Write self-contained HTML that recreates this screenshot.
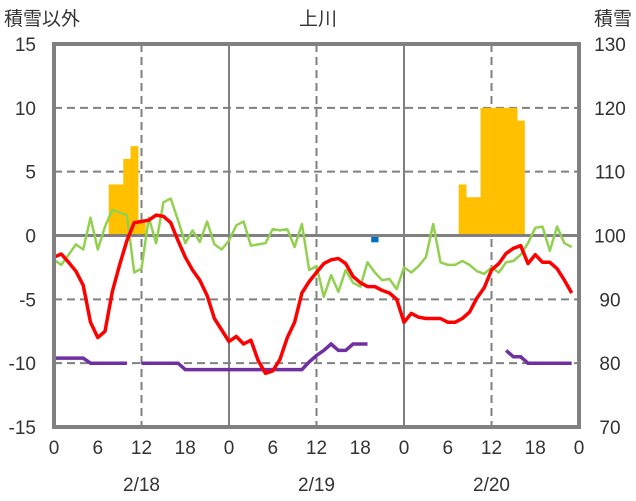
<!DOCTYPE html>
<html><head><meta charset="utf-8"><style>
body{margin:0;background:#fff;}
svg{display:block;font-family:"Liberation Sans","Noto Sans CJK JP",sans-serif;}
</style></head><body>
<svg id="c" width="636" height="501">
<text x="4" y="25" font-size="19" fill="#333">積雪以外</text>
<text x="318" y="25" font-size="19" fill="#333" text-anchor="middle">上川</text>
<text x="632" y="25" font-size="19" fill="#333" text-anchor="end">積雪</text>
<g id="grid"></g><g id="bars"></g><g id="lines"></g><g id="axes"></g>
</svg>
<script>
const hours=[];for(let i=0;i<72;i++)hours.push(i);
const leftTicks=[15,10,5,0,-5,-10,-15];
const rightTicks=[130,120,110,100,90,80,70];
const xTickLabels=["0","6","12","18","0","6","12","18","0","6","12","18","0"];
const dateLabels=["2/18","2/19","2/20"];
const snowHours=[8,9,10,11,12,56,57,58,59,60,61,62,63,64];
const snowDepth=[108,108,112,114,102,108,106,106,120,120,120,120,120,118];
const redVals=[-1.7,-1.45,-2.1,-2.8,-3.9,-6.8,-8.0,-7.5,-4.4,-2.3,-0.4,1.0,1.1,1.2,1.6,1.5,1.0,-0.4,-1.7,-2.7,-3.5,-4.7,-6.5,-7.4,
-8.3,-7.9,-8.5,-8.2,-9.8,-10.8,-10.6,-9.7,-8.0,-6.8,-4.5,-3.6,-2.9,-2.2,-1.9,-1.8,-2.2,-3.2,-3.7,-4.0,-4.0,-4.3,-4.5,-5.0,
-6.8,-6.1,-6.4,-6.5,-6.5,-6.5,-6.8,-6.8,-6.5,-6.0,-4.9,-4.1,-2.7,-2.2,-1.4,-1.0,-0.8,-2.2,-1.5,-2.1,-2.1,-2.6,-3.5,-4.5];
const greenVals=[-1.9,-2.3,-1.5,-0.7,-1.1,1.4,-1.1,0.7,2.0,1.8,1.6,-2.9,-2.6,1.4,-0.6,2.6,2.9,1.2,-0.6,0.4,-0.5,1.1,-0.7,-1.1,
-0.4,0.8,1.1,-0.8,-0.7,-0.6,0.5,0.4,0.5,-0.9,0.9,-2.7,-2.4,-4.8,-3.1,-4.4,-2.7,-3.7,-4.0,-2.1,-2.9,-3.5,-3.4,-4.2,
-2.5,-2.9,-2.4,-1.7,0.9,-2.1,-2.3,-2.3,-2.0,-2.3,-2.8,-3.0,-2.5,-2.9,-2.1,-2.0,-1.5,-0.6,0.6,0.7,-1.2,0.7,-0.6,-0.9];
const N=null;
const purpleVals=[-9.6,-9.6,-9.6,-9.6,-9.6,-10,-10,-10,-10,-10,-10,N,-10,-10,-10,-10,-10,-10,-10.5,-10.5,-10.5,-10.5,-10.5,-10.5,
-10.5,-10.5,-10.5,-10.5,-10.5,-10.5,-10.5,-10.5,-10.5,-10.5,-10.5,-9.9,-9.4,-9.0,-8.5,-9.0,-9.0,-8.5,-8.5,-8.5,N,N,N,N,
N,N,N,N,N,N,N,N,N,N,N,N,N,N,-9.0,-9.5,-9.5,-10,-10,-10,-10,-10,-10,-10];
const blueHour=[44];const blueVal=[-0.3];

const X0=54,X1=579,Y0=44,Y1=427;
const x=h=>X0+(X1-X0)*h/72;
const yL=v=>Y1-(v+15)/30*(Y1-Y0);
const yR=v=>Y1-(v-70)/60*(Y1-Y0);
const NS="http://www.w3.org/2000/svg";
function mk(tag,parent,attrs){const e=document.createElementNS(NS,tag);for(const k in attrs)e.setAttribute(k,attrs[k]);parent.appendChild(e);return e;}
const grid=document.getElementById('grid'),bars=document.getElementById('bars'),lines=document.getElementById('lines'),axes=document.getElementById('axes');

leftTicks.forEach((t,i)=>{
  const y=yL(t);
  if(t!==15&&t!==-15&&t!==0){const l=mk('line',grid,{x1:X0,x2:X1,y1:y,y2:y,stroke:'#808080','stroke-width':2,'stroke-dasharray':'8,5'});
  }
  const tx=mk('text',axes,{x:36,y:y+7,'font-size':19,fill:'#333','text-anchor':'end'});tx.textContent=t;
  
  const tr=mk('text',axes,{x:610,y:y+7,'font-size':19,fill:'#333','text-anchor':'middle'});tr.textContent=rightTicks[i];
  
});
xTickLabels.forEach((s,i)=>{
  const h=i*6,xx=x(h);
  if(i%4===2){const l=mk('line',grid,{x1:xx,x2:xx,y1:Y0,y2:Y1,stroke:'#808080','stroke-width':2,'stroke-dasharray':'8,5'});
  }
  if(i%4===0&&i>0&&i<12){const l=mk('line',grid,{x1:xx,x2:xx,y1:Y0,y2:Y1,stroke:'#808080','stroke-width':2});
  }
  const t=mk('text',axes,{x:xx,y:454,'font-size':19,fill:'#333','text-anchor':'middle'});t.textContent=s;
  
});
dateLabels.forEach((s,i)=>{
  const t=mk('text',axes,{x:x(i*24+12),y:491,'font-size':19,fill:'#333','text-anchor':'middle'});t.textContent=s;
  
});
snowHours.forEach((h,i)=>{
  const w=x(1)-x(0),yt=yR(snowDepth[i]);
  const r=mk('rect',bars,{x:x(h-0.5),y:yt,width:w+0.5,height:yR(100)-yt,fill:'#FFC000'});
  
});
blueHour.forEach((h,i)=>{
  const r=mk('rect',bars,{x:x(h-0.5),y:yL(0)+1,width:x(1)-x(0),height:Math.max(4,yL(blueVal[i])-yL(0)+2),fill:'#0070C0'});
  
});
function path(vals){let d='',pen=false;vals.forEach((v,i)=>{if(v===null){pen=false;return;}d+=(pen?'L':'M')+x(hours[i]).toFixed(1)+','+yL(v).toFixed(1);pen=true;});return d;}
const zl=mk('line',lines,{x1:X0,x2:X1,y1:yL(0),y2:yL(0),stroke:'#808080','stroke-width':3});

const pp=mk('path',lines,{d:path(purpleVals),fill:'none',stroke:'#7030A0','stroke-width':3.5});

const gp=mk('path',lines,{d:path(greenVals),fill:'none',stroke:'#92D050','stroke-width':2.5,'stroke-linejoin':'round'});

const rp=mk('path',lines,{d:path(redVals),fill:'none',stroke:'#FF0000','stroke-width':3.5,'stroke-linejoin':'round'});

const fr=mk('rect',axes,{x:X0,y:Y0,width:X1-X0,height:Y1-Y0,fill:'none',stroke:'#808080','stroke-width':4});

</script>
</body></html>
